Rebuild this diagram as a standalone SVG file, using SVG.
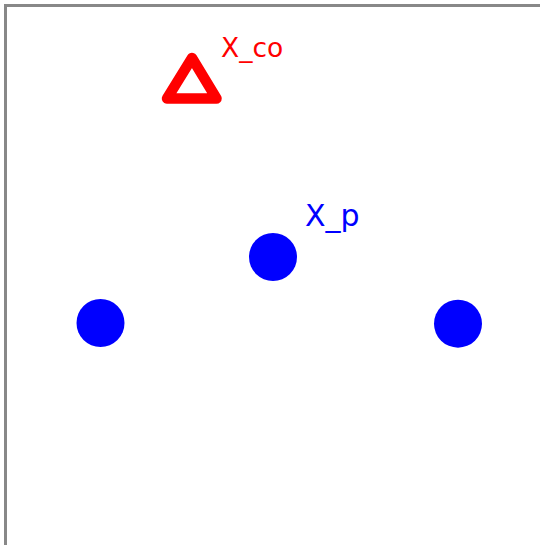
<svg xmlns="http://www.w3.org/2000/svg" width="540" height="545" viewBox="0 0 540 545">
<style>
.frame{stroke:#888;stroke-width:3;fill:none}
.pt{fill:#0000ff}
.lbl{font-family:"DejaVu Sans",sans-serif}
</style>
<rect width="540" height="545" fill="#fff"/>
<g id="frame">
<path class="frame" d="M5.5 545V5.5H540"/>
</g>
<g id="X_co">
<path d="M192 58L167 98.5H216.5Z" fill="none" stroke="#ff0000" stroke-width="10.5" stroke-linejoin="round"/>
<text class="lbl" x="221" y="57" font-size="26.5" fill="#ff0000">X_co</text>
</g>
<g id="X_p">
<circle class="pt" cx="273" cy="257" r="24"/>
<text class="lbl" x="305" y="226" font-size="30" fill="#0000ff">X_p</text>
</g>
<g id="p1">
<circle class="pt" cx="100.5" cy="323" r="24"/>
</g>
<g id="p2">
<circle class="pt" cx="458" cy="323.7" r="24"/>
</g>
<g id="connectors"></g>
</svg>
